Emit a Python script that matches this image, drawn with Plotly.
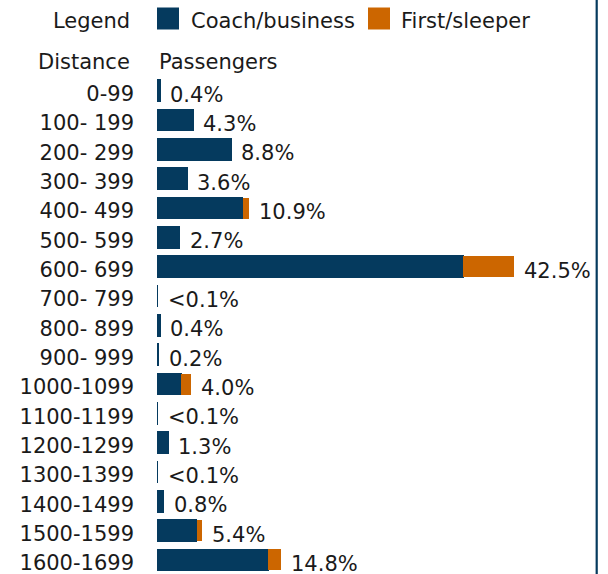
import plotly.graph_objects as go

# Distance bands (miles) and share of passengers by class, in percent
distances = ["0-99", "100- 199", "200- 299", "300- 399", "400- 499", "500- 599",
             "600- 699", "700- 799", "800- 899", "900- 999", "1000-1099",
             "1100-1199", "1200-1299", "1300-1399", "1400-1499", "1500-1599",
             "1600-1699"]
coach_business = [0.4, 4.3, 8.8, 3.6, 10.2, 2.7, 36.4, 0.08, 0.4, 0.2, 2.9,
                  0.08, 1.3, 0.08, 0.8, 4.7, 13.2]
first_sleeper = [0.0, 0.0, 0.0, 0.0, 0.7, 0.0, 6.1, 0.0, 0.0, 0.0, 1.1,
                 0.0, 0.0, 0.0, 0.0, 0.7, 1.6]
share_labels = ["0.4%", "4.3%", "8.8%", "3.6%", "10.9%", "2.7%", "42.5%",
                "<0.1%", "0.4%", "0.2%", "4.0%", "<0.1%", "1.3%", "<0.1%",
                "0.8%", "5.4%", "14.8%"]

BLUE = "#053a5e"
ORANGE = "#cc6600"
INK = "#1a1a1a"
FONT = "DejaVu Sans"
FS = 21

W, H = 608, 574
L, R, T, B = 157, 13, 76, 0
plot_w = W - L - R
plot_h = H - T - B


def px_x(px):
    return (px - L) / plot_w


def px_y(py):
    return (H - B - py) / plot_h


totals = [c + f for c, f in zip(coach_business, first_sleeper)]

fig = go.Figure()
fig.add_trace(go.Bar(
    y=distances, x=coach_business, orientation="h", name="Coach/business",
    marker=dict(color=BLUE, line=dict(color=BLUE, width=1.4)),
    hoverinfo="x+y",
))
fig.add_trace(go.Bar(
    y=distances, x=first_sleeper, orientation="h", name="First/sleeper",
    marker=dict(color=ORANGE, line=dict(width=0)),
    hoverinfo="x+y",
))

annotations = []
# value labels at the end of each stacked bar
for cat, tot, lab in zip(distances, totals, share_labels):
    annotations.append(dict(
        x=tot, y=cat, xref="x", yref="y", text=lab, showarrow=False,
        xanchor="left", yanchor="middle", xshift=8, yshift=-4,
        font=dict(family=FONT, size=FS, color=INK),
    ))

# header and legend texts
headers = [
    ("Legend", 132, 21, "right"),
    ("Distance", 132, 62, "right"),
    ("Passengers", 157, 62, "left"),
    ("Coach/business", 189, 21, "left"),
    ("First/sleeper", 399, 21, "left"),
]
for text, hx, hy, anchor in headers:
    annotations.append(dict(
        x=px_x(hx), y=px_y(hy), xref="paper", yref="paper", text=text,
        showarrow=False, xanchor=anchor, yanchor="middle",
        font=dict(family=FONT, size=FS, color=INK),
    ))

shapes = [
    # legend swatches
    dict(type="rect", xref="paper", yref="paper",
         x0=px_x(157), x1=px_x(179), y0=px_y(29.5), y1=px_y(7.5),
         fillcolor=BLUE, line=dict(width=0)),
    dict(type="rect", xref="paper", yref="paper",
         x0=px_x(368), x1=px_x(390), y0=px_y(29.5), y1=px_y(7.5),
         fillcolor=ORANGE, line=dict(width=0)),
    # right frame rule
    dict(type="line", xref="paper", yref="paper",
         x0=px_x(596.7), x1=px_x(596.7), y0=px_y(0), y1=px_y(H),
         line=dict(color=BLUE, width=2.2)),
]

fig.update_layout(
    width=W, height=H,
    margin=dict(l=L, r=R, t=T, b=B, pad=0),
    barmode="stack", bargap=0.284,
    showlegend=False,
    plot_bgcolor="white", paper_bgcolor="white",
    font=dict(family=FONT, size=FS, color=INK),
    xaxis=dict(range=[0, plot_w / 8.407], visible=False, fixedrange=True),
    yaxis=dict(
        type="category", range=[16.478, -0.501],
        showgrid=False, zeroline=False, showline=False,
        ticks="", ticklabelstandoff=22, ticklabelshift=-3,
        tickfont=dict(family=FONT, size=FS, color=INK),
        fixedrange=True,
    ),
    annotations=annotations,
    shapes=shapes,
)

fig.write_html("out.html", config={"displayModeBar": False})
